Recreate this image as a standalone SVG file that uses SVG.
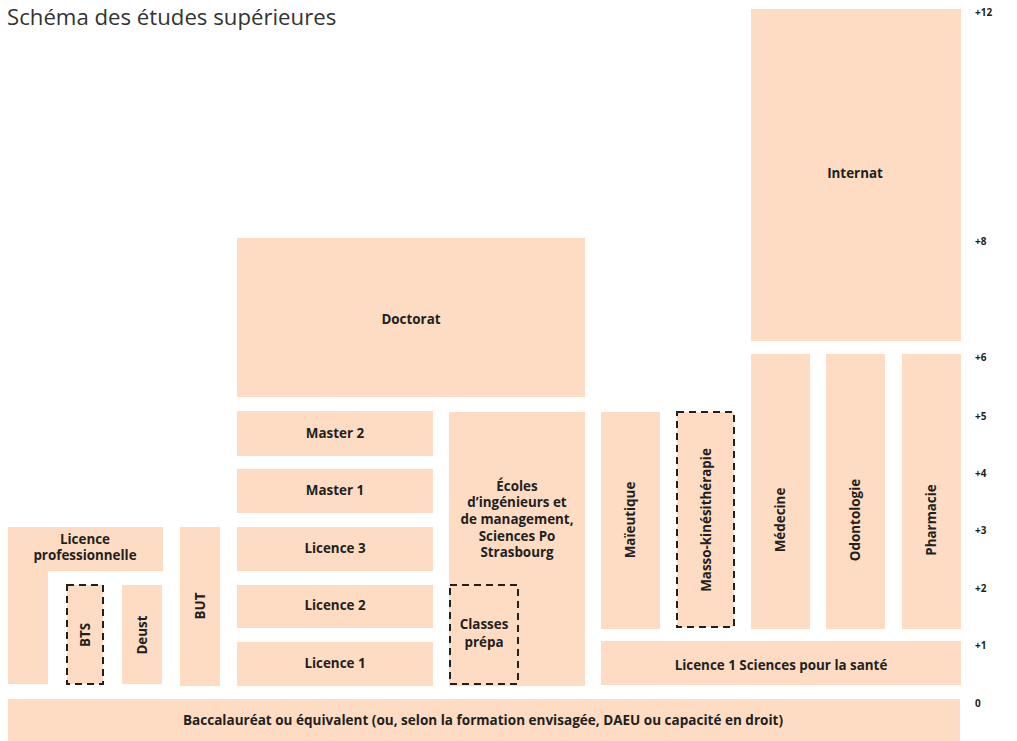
<svg xmlns="http://www.w3.org/2000/svg" width="1017" height="741" viewBox="0 0 1017 741">
<style>
.b{fill:#fddcc3}
.d{fill:#fddcc3;stroke:#231f20;stroke-width:2;stroke-dasharray:7 5}
.t{font-family:"Open Sans","Noto Sans",sans-serif;font-weight:bold;font-size:13.4px;fill:#231f20;text-anchor:middle}
.s{font-family:"Open Sans","Noto Sans",sans-serif;font-weight:bold;font-size:10px;fill:#231f20}
.h{font-family:"Open Sans","Noto Sans",sans-serif;font-size:22.2px;fill:#333}
</style>
<rect width="1017" height="741" fill="#fff"/>
<text class="h" x="7" y="25">Schéma des études supérieures</text>
<g id="scale">
<text class="s" x="975" y="16">+12</text>
<text class="s" x="975" y="245">+8</text>
<text class="s" x="975" y="361">+6</text>
<text class="s" x="975" y="420">+5</text>
<text class="s" x="975" y="477">+4</text>
<text class="s" x="975" y="534">+3</text>
<text class="s" x="975" y="592">+2</text>
<text class="s" x="975" y="649">+1</text>
<text class="s" x="975" y="707">0</text>
</g>
<g id="bac"><rect class="b" x="8" y="699" width="952" height="42"/><text class="t" x="483" y="725" textLength="600" lengthAdjust="spacingAndGlyphs">Baccalauréat ou équivalent (ou, selon la formation envisagée, DAEU ou capacité en droit)</text></g>
<g id="licpro"><path class="b" d="M8 527H163V571H48V684H8Z"/><text class="t" x="85" y="544">Licence</text><text class="t" x="85" y="560">professionnelle</text></g>
<g id="bts"><rect class="d" x="67" y="585" width="36" height="99"/><text class="t" transform="translate(89.5 635) rotate(-90)">BTS</text></g>
<g id="deust"><rect class="b" x="122" y="585" width="40" height="99"/><text class="t" transform="translate(146.5 635) rotate(-90)">Deust</text></g>
<g id="but"><rect class="b" x="180" y="527" width="40" height="159"/><text class="t" transform="translate(204.5 606) rotate(-90)">BUT</text></g>
<g id="l1"><rect class="b" x="237" y="642" width="196" height="44"/><text class="t" x="335" y="668">Licence 1</text></g>
<g id="l2"><rect class="b" x="237" y="585" width="196" height="43"/><text class="t" x="335" y="610">Licence 2</text></g>
<g id="l3"><rect class="b" x="237" y="527" width="196" height="44"/><text class="t" x="335" y="553">Licence 3</text></g>
<g id="m1"><rect class="b" x="237" y="469" width="196" height="44"/><text class="t" x="335" y="495">Master 1</text></g>
<g id="m2"><rect class="b" x="237" y="411" width="196" height="45"/><text class="t" x="335" y="438">Master 2</text></g>
<g id="doctorat"><rect class="b" x="237" y="238" width="348" height="159"/><text class="t" x="411" y="324">Doctorat</text></g>
<g id="ecoles"><rect class="b" x="449" y="412" width="136" height="274"/>
<text class="t" x="517" y="491">Écoles</text><text class="t" x="517" y="507">d’ingénieurs et</text><text class="t" x="517" y="524">de management,</text><text class="t" x="517" y="541">Sciences Po</text><text class="t" x="517" y="557">Strasbourg</text></g>
<g id="prepa"><rect class="d" x="450" y="585" width="68" height="99"/><text class="t" x="484" y="629">Classes</text><text class="t" x="484" y="647">prépa</text></g>
<g id="maieutique"><rect class="b" x="601" y="412" width="59" height="217"/><text class="t" transform="translate(635 520) rotate(-90)">Maïeutique</text></g>
<g id="masso"><rect class="d" x="677" y="412" width="57" height="215"/><text class="t" transform="translate(710.5 520) rotate(-90)">Masso-kinésithérapie</text></g>
<g id="medecine"><rect class="b" x="751" y="354" width="59" height="275"/><text class="t" transform="translate(785 520) rotate(-90)">Médecine</text></g>
<g id="odonto"><rect class="b" x="826" y="354" width="59" height="275"/><text class="t" transform="translate(860 520) rotate(-90)">Odontologie</text></g>
<g id="pharma"><rect class="b" x="902" y="354" width="59" height="275"/><text class="t" transform="translate(936 520) rotate(-90)">Pharmacie</text></g>
<g id="internat"><rect class="b" x="751" y="9" width="210" height="332"/><text class="t" x="855" y="178">Internat</text></g>
<g id="lsante"><rect class="b" x="601" y="641" width="360" height="44"/><text class="t" x="781" y="670">Licence 1 Sciences pour la santé</text></g>
<g id="connectors"></g>
</svg>
